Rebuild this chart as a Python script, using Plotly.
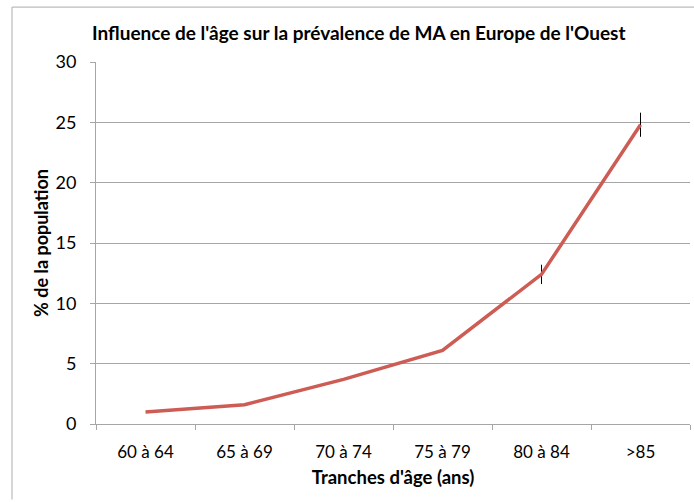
import plotly.graph_objects as go

categories = ["60 à 64", "65 à 69", "70 à 74", "75 à 79", "80 à 84", ">85"]
prevalence = [1.0, 1.6, 3.7, 6.1, 12.4, 24.8]
error_values = [0, 0, 0, 0, 0.8, 1.0]

title_text = "Influence de l'âge sur la prévalence de MA en Europe de l'Ouest"
x_title = "Tranches d'âge (ans)"
y_title = "% de la population"

FONT = "Lato, 'Open Sans', sans-serif"

fig = go.Figure()
fig.add_trace(go.Scatter(
    x=categories, y=prevalence, mode="lines",
    line=dict(color="#CD5C54", width=3.5),
    error_y=dict(type="data", array=error_values, visible=True,
                 color="black", thickness=1, width=0),
    showlegend=False, hoverinfo="x+y",
))

L, T, W, H = 96, 62, 594, 362.5
fx0 = (12 - L) / W
fx1 = (694 - L) / W
fy0 = -(500 - (T + H)) / H
fy1 = 1 + (T - 7) / H

fig.update_layout(
    width=694, height=502,
    margin=dict(l=96, r=4, t=62, b=77.5, autoexpand=False),
    paper_bgcolor="white", plot_bgcolor="white",
    font=dict(family=FONT, size=17, color="black"),
    title=dict(text="<b>" + title_text + "</b>", x=0.517, xanchor="center",
               y=1 - 33 / 502, yanchor="middle", yref="container",
               font=dict(family=FONT, size=19, color="black")),
    xaxis=dict(
        type="category", tickson="boundaries", showgrid=False,
        showline=True, linecolor="#A6A6A6", linewidth=1,
        ticks="outside", ticklen=5, tickcolor="#A6A6A6",
        tickfont=dict(size=17), ticklabelstandoff=13,
        title=dict(text="<b>" + x_title + "</b>", font=dict(size=18.5), standoff=9),
        range=[-0.5, 5.5], automargin=False,
    ),
    yaxis=dict(
        range=[0, 30], dtick=5, showgrid=True, gridcolor="#A6A6A6", gridwidth=1,
        showline=True, linecolor="#A6A6A6", linewidth=1,
        ticks="outside", ticklen=5, tickcolor="#A6A6A6",
        tickfont=dict(size=18), ticklabelstandoff=10,
        zeroline=False, automargin=False,
        title=dict(text="<b>" + y_title + "</b>", font=dict(size=18), standoff=2),
    ),
    shapes=[dict(type="line", xref="paper", yref="paper",
                 x0=fx0, x1=fx0, y0=fy0, y1=fy1,
                 line=dict(color="#BBBBBB", width=1.2), layer="below"),
            dict(type="line", xref="paper", yref="paper",
                 x0=fx0, x1=fx1, y0=fy1, y1=fy1,
                 line=dict(color="#BBBBBB", width=1.2), layer="below")],
)

fig.write_html(
    "out.html", config={"displayModeBar": False},
    post_script="document.body.style.margin='0';document.body.style.overflow='hidden';"
                "document.documentElement.style.overflow='hidden';",
)
